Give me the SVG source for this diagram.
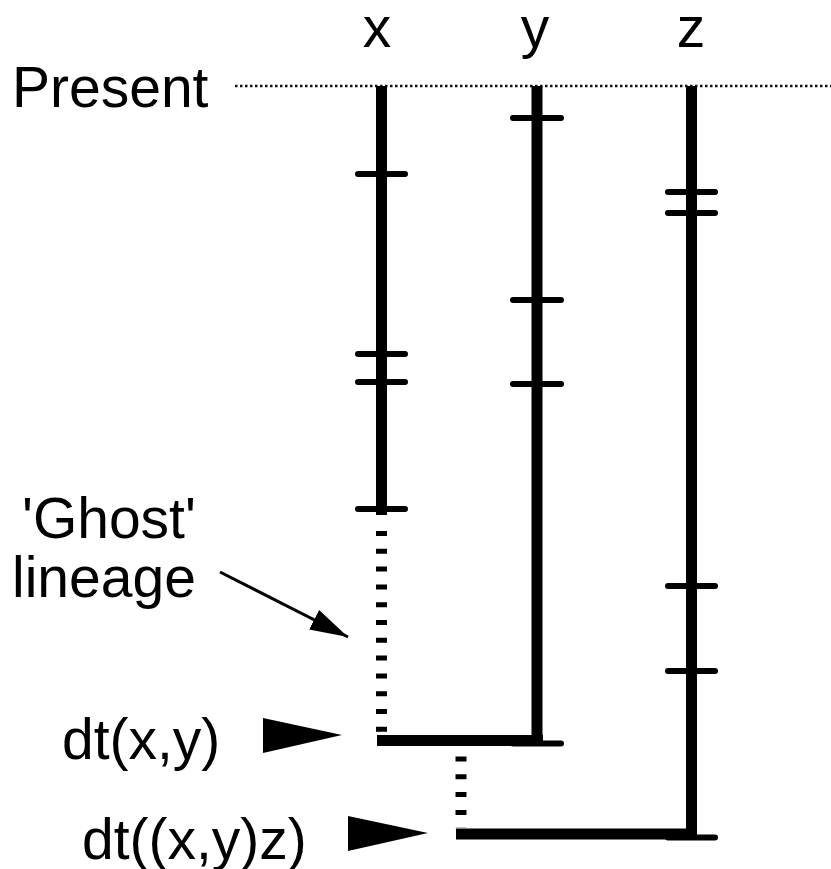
<svg xmlns="http://www.w3.org/2000/svg" width="831" height="869" viewBox="0 0 831 869">
<style>
.lbl{font-family:"Liberation Sans",Arial,sans-serif;font-size:57px;fill:#000}
.trunk{stroke:#000;stroke-width:11;fill:none}
.tick{stroke:#000;stroke-width:6;fill:none;stroke-linecap:round}
.ghost{stroke:#000;stroke-width:11;fill:none;stroke-dasharray:5 12.8}
.present{stroke:#111;stroke-width:2.5;stroke-dasharray:2.5 2.5;fill:none}
.pointer{fill:#000}
.callout{stroke:#000;stroke-width:3;fill:none}
</style>
<defs>
<marker id="ah" viewBox="0 0 38 22" refX="38" refY="11" markerWidth="38" markerHeight="22" markerUnits="userSpaceOnUse" orient="auto">
<path d="M0,0 L38,11 L0,22 Z" fill="#000"/>
</marker>
</defs>
<rect width="831" height="869" fill="#fff"/>
<g id="present">
<line class="present" x1="235" y1="86" x2="831" y2="86"/>
<text class="lbl" x="12" y="107">Present</text>
</g>
<g id="label-x"><text class="lbl" x="377" y="47" text-anchor="middle">x</text></g>
<g id="label-y"><text class="lbl" x="535" y="47" text-anchor="middle">y</text></g>
<g id="label-z"><text class="lbl" x="691" y="47" text-anchor="middle">z</text></g>
<g id="lineage-x">
<line class="trunk" x1="381.5" y1="86" x2="381.5" y2="515"/>
<line class="tick" x1="358" y1="174" x2="405" y2="174"/>
<line class="tick" x1="358" y1="354" x2="405" y2="354"/>
<line class="tick" x1="358" y1="382" x2="405" y2="382"/>
<line class="tick" x1="358" y1="509" x2="405" y2="509"/>
</g>
<g id="lineage-y">
<line class="trunk" x1="537" y1="86" x2="537" y2="742"/>
<line class="tick" x1="513" y1="118" x2="561" y2="118"/>
<line class="tick" x1="513" y1="300" x2="561" y2="300"/>
<line class="tick" x1="513" y1="384" x2="561" y2="384"/>
</g>
<g id="lineage-z">
<line class="trunk" x1="691.5" y1="86" x2="691.5" y2="840"/>
<line class="tick" x1="668" y1="192" x2="715" y2="192"/>
<line class="tick" x1="668" y1="213" x2="715" y2="213"/>
<line class="tick" x1="668" y1="586" x2="715" y2="586"/>
<line class="tick" x1="668" y1="671" x2="715" y2="671"/>
</g>
<g id="ghost-label">
<text class="lbl" x="22" y="538">'Ghost'</text>
<text class="lbl" x="12" y="597">lineage</text>
</g>
<g id="node-dt-xy">
<text class="lbl" x="62" y="759">dt(x,y)</text>
<polygon class="pointer" points="263,718 342,735 263,753"/>
</g>
<g id="node-dt-xyz">
<text class="lbl" x="82" y="859">dt((x,y)z)</text>
<polygon class="pointer" points="348,816 428,833 348,851"/>
</g>
<g id="connectors">
<line class="ghost" x1="381.5" y1="531" x2="381.5" y2="735"/>
<line class="trunk" x1="377" y1="740.5" x2="543" y2="740.5"/>
<line class="tick" x1="513" y1="743.5" x2="561" y2="743.5"/>
<line class="ghost" x1="461" y1="756.5" x2="461" y2="828"/>
<line class="trunk" x1="456" y1="834" x2="697" y2="834"/>
<line class="tick" x1="668" y1="837.5" x2="715" y2="837.5"/>
<line class="callout" x1="220" y1="572" x2="348" y2="637" marker-end="url(#ah)"/>
</g>
</svg>
